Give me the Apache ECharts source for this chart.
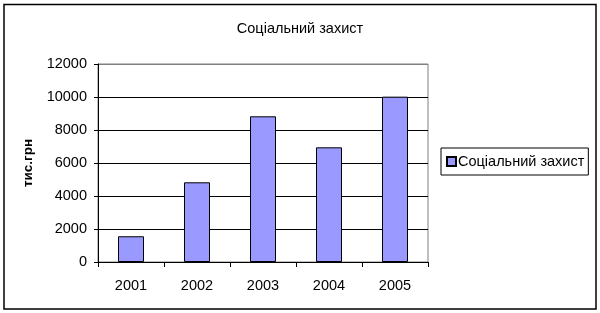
<!DOCTYPE html>
<html>
<head>
<meta charset="utf-8">
<script src="https://cdn.jsdelivr.net/npm/echarts@6/dist/echarts.min.js"></script>
<style>
html,body{margin:0;padding:0;background:#fff;}
#c{width:600px;height:313px;}
</style>
</head>
<body>
<div id="c"></div>
<script>
const titleText = 'Соціальний захист';
const yAxisName = 'тис.грн';
const seriesName = 'Соціальний захист';
const categories = ['2001', '2002', '2003', '2004', '2005'];
const values = [1560, 4830, 8830, 6950, 10020];
const yTicks = [0, 2000, 4000, 6000, 8000, 10000, 12000];

const font = '"Liberation Sans", Arial, sans-serif';
const chart = echarts.init(document.getElementById('c'), null, {renderer: 'canvas'});
chart.setOption({
  animation: false,
  backgroundColor: '#fff',
  textStyle: {fontFamily: font, color: '#000'},
  title: {
    text: titleText, left: 'center', top: 16,
    textStyle: {fontFamily: font, fontSize: 14.5, fontWeight: 'normal', color: '#000'}
  },
  graphic: [{
    type: 'rect', silent: true, z: 100,
    shape: {x: 4, y: 4.5, width: 592, height: 304.5},
    style: {fill: 'none', stroke: '#000', lineWidth: 1.5}
  }],
  legend: {
    data: [seriesName], left: 441, top: 148,
    orient: 'vertical',
    borderColor: '#000', borderWidth: 1, padding: [6, 4, 6, 5],
    itemWidth: 9, itemHeight: 9, itemGap: 4,
    icon: 'rect',
    textStyle: {fontFamily: font, fontSize: 14.5, color: '#000', padding: [0, 0, 0, -3]}
  },
  grid: {
    left: 98, right: 172, top: 64, bottom: 51,
    show: true, borderColor: '#808080', borderWidth: 1, backgroundColor: 'transparent'
  },
  xAxis: {
    type: 'category', data: categories,
    axisLine: {lineStyle: {color: '#000', width: 1}},
    axisTick: {show: true, alignWithLabel: false, length: 5, lineStyle: {color: '#000'}},
    axisLabel: {fontFamily: font, fontSize: 14.5, color: '#000', margin: 16}
  },
  yAxis: {
    type: 'value', min: yTicks[0], max: yTicks[yTicks.length - 1], interval: yTicks[1] - yTicks[0],
    name: yAxisName, nameLocation: 'middle', nameRotate: 90, nameGap: 63,
    nameTextStyle: {fontFamily: font, fontSize: 13.5, fontWeight: 'bold', color: '#000'},
    axisLine: {show: true, lineStyle: {color: '#000', width: 1}},
    axisTick: {show: true, length: 4, lineStyle: {color: '#000'}},
    axisLabel: {fontFamily: font, fontSize: 14.5, color: '#000', margin: 11, formatter: v => String(v)},
    splitLine: {show: true, lineStyle: {color: ['#000', '#000', '#000', '#000', '#000', '#000', '#808080'], width: 1}}
  },
  series: [{
    name: seriesName, type: 'bar', data: values,
    barWidth: 26,
    itemStyle: {color: '#9999FF', borderColor: '#000', borderWidth: 1}
  }]
});
</script>
</body>
</html>
